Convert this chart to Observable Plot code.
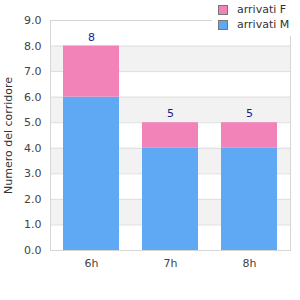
<!DOCTYPE html>
<html><head><meta charset="utf-8">
<script src="https://cdn.jsdelivr.net/npm/d3@7"></script>
<script src="https://cdn.jsdelivr.net/npm/@observablehq/plot@0.6"></script>
<style>
body{margin:0;background:#fff;font-family:"DejaVu Sans",sans-serif;}
#wrap{position:relative;width:300px;height:300px;}
#legend{position:absolute;left:212px;top:0;background:#fff;padding:2px 6px 4px 6px;font-size:11px;color:#333;}
.li{display:flex;align-items:center;height:15px;}
.sw{width:8px;height:8px;border:1px solid #777;margin-right:9px;}
</style></head>
<body><div id="wrap"><div id="legend"></div></div>
<script>
const hours = ["6h","7h","8h"];
const maleArrivals = [6,4,4];
const femaleArrivals = [2,1,1];
const seriesNames = ["arrivati M","arrivati F"];
const seriesColors = ["#5fa8f3","#f283b9"];
const yTicks = [0,1,2,3,4,5,6,7,8,9];
const bandRanges = [[1,2],[3,4],[5,6],[7,8]];

const data = [];
hours.forEach((h,i)=>{
  data.push({hour:h, serie:seriesNames[0], value:maleArrivals[i]});
  data.push({hour:h, serie:seriesNames[1], value:femaleArrivals[i]});
});
const totals = hours.map((h,i)=>({hour:h,total:maleArrivals[i]+femaleArrivals[i]}));
const bands = bandRanges.map(([a,b])=>({y1:a,y2:b}));

const chart = Plot.plot({
  width:300, height:300,
  marginLeft:50, marginRight:10, marginTop:20, marginBottom:50,
  style:{fontFamily:"DejaVu Sans, sans-serif", fontSize:"11px", color:"#444"},
  x:{domain:hours, paddingInner:0.2875, paddingOuter:0.16, label:null, tickSize:0, tickPadding:9},
  y:{domain:[0,9], ticks:yTicks, tickFormat:d3.format(".1f"), label:null, tickSize:0, tickPadding:9},
  color:{domain:seriesNames, range:seriesColors},
  marks:[
    Plot.rectY(bands,{y1:"y1",y2:"y2",fill:"#f2f2f2"}),
    Plot.gridY(yTicks,{stroke:"#dddddd",strokeOpacity:1}),
    Plot.frame({stroke:"#d6d6d6"}),
    Plot.barY(data,{x:"hour",y:"value",fill:"serie",order:seriesNames}),
    Plot.text(totals,{x:"hour",y:"total",text:d=>String(d.total),dy:-9,fill:"#1a1a8a",fontSize:11}),
    Plot.axisY({ticks:yTicks,tickFormat:d3.format(".1f"),tickSize:0,tickPadding:9,label:null}),
    Plot.axisX({tickSize:0,tickPadding:9,label:null}),
    Plot.text(["Numero del corridore"],{frameAnchor:"left",textAnchor:"middle",dx:-42,rotate:-90,fill:"#333",fontSize:11})
  ]
});
document.getElementById("wrap").prepend(chart);
chart.style.position="absolute";chart.style.left="0";chart.style.top="0";
const lg = document.getElementById("legend");
lg.style.zIndex=2;
[[seriesNames[1],seriesColors[1]],[seriesNames[0],seriesColors[0]]].forEach(([n,c])=>{
  const d=document.createElement("div");d.className="li";
  d.innerHTML=`<span class="sw" style="background:${c}"></span><span>${n}</span>`;
  lg.appendChild(d);
});
</script></body></html>
